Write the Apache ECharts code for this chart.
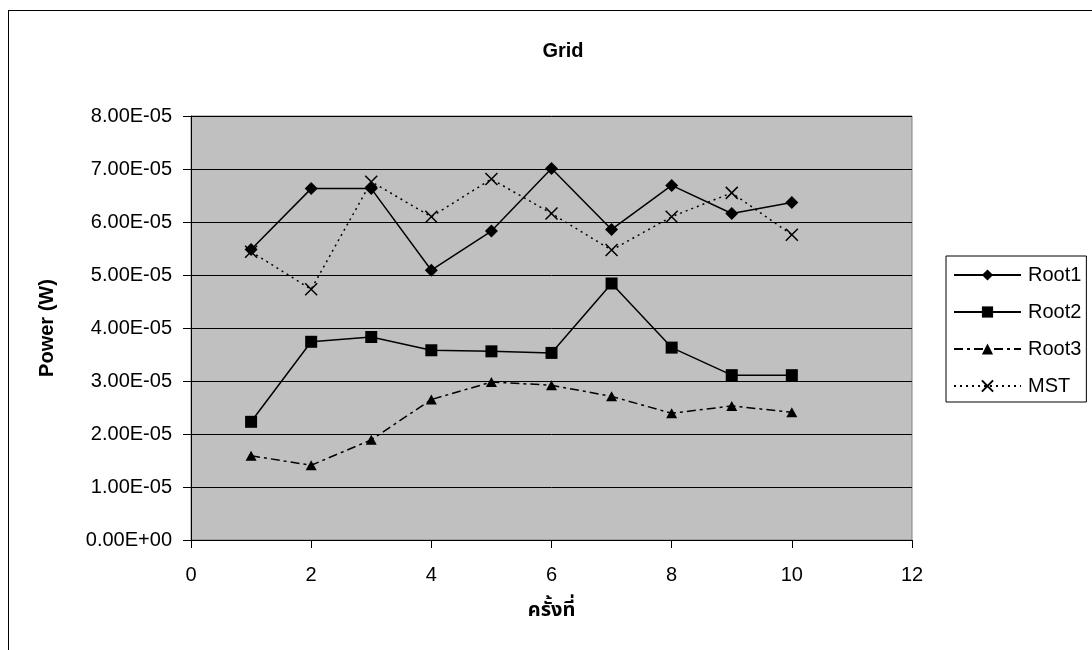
<!DOCTYPE html>
<html>
<head>
<meta charset="utf-8">
<script src="https://cdn.jsdelivr.net/npm/echarts@6/dist/echarts.min.js"></script>
<style>
  html, body { margin: 0; padding: 0; background: #fff; overflow: hidden; }
  #frame { position: absolute; left: 8px; top: 10px; width: 1300px; height: 900px;
           border-left: 1px solid #000; border-top: 1px solid #000; z-index: 2; pointer-events: none; }
  #chart { position: absolute; left: 0; top: 0; width: 1092px; height: 650px; }
</style>
</head>
<body>
<div id="frame"></div>
<div id="chart"></div>
<script>
// Measurement runs (x) and power readings in watts for each routing scheme
const runs  = [1, 2, 3, 4, 5, 6, 7, 8, 9, 10];
const root1 = [5.48e-5, 6.63e-5, 6.63e-5, 5.09e-5, 5.83e-5, 7.01e-5, 5.86e-5, 6.69e-5, 6.16e-5, 6.37e-5];
const root2 = [2.23e-5, 3.74e-5, 3.83e-5, 3.58e-5, 3.56e-5, 3.53e-5, 4.84e-5, 3.63e-5, 3.11e-5, 3.11e-5];
const root3 = [1.59e-5, 1.41e-5, 1.89e-5, 2.65e-5, 2.98e-5, 2.92e-5, 2.71e-5, 2.39e-5, 2.53e-5, 2.41e-5];
const mst   = [5.44e-5, 4.73e-5, 6.76e-5, 6.10e-5, 6.81e-5, 6.16e-5, 5.47e-5, 6.10e-5, 6.55e-5, 5.76e-5];
const seriesNames = ['Root1', 'Root2', 'Root3', 'MST'];

const FONT = "'Liberation Sans', Arial, 'Noto Sans Thai', Tahoma, sans-serif";

// Excel-style scientific notation: 8.00E-05, 0.00E+00
function sci(v) {
  if (v === 0) return '0.00E+00';
  let e = Math.floor(Math.log10(Math.abs(v)) + 1e-9);
  let m = v / Math.pow(10, e);
  if (Math.round(m * 100) / 100 >= 10) { m /= 10; e += 1; }
  return m.toFixed(2) + 'E' + (e < 0 ? '-' : '+') + String(Math.abs(e)).padStart(2, '0');
}

function pairs(vals) { return runs.map((r, i) => [r, vals[i]]); }

const crossPath = 'path://M0,0L10,10M10,0L0,10';

function lineSeries(name, vals, symbol, size, dash, hollow) {
  return {
    name: name,
    type: 'line',
    data: pairs(vals),
    symbol: symbol,
    symbolSize: size,
    showAllSymbol: true,
    animation: false,
    lineStyle: { color: '#000', width: 1.5, type: dash },
    itemStyle: hollow
      ? { color: 'none', borderColor: '#000', borderWidth: 1.5 }
      : { color: '#000', borderColor: '#000', borderWidth: 0 },
    emphasis: { disabled: true }
  };
}

const chart = echarts.init(document.getElementById('chart'), null, { renderer: 'canvas' });
chart.setOption({
  backgroundColor: 'transparent',
  animation: false,
  textStyle: { fontFamily: FONT, color: '#000' },
  title: {
    text: 'Grid',
    left: 558,
    top: 36,
    textAlign: 'center',
    textStyle: { fontFamily: FONT, fontSize: 20, fontWeight: 'bold', color: '#000' }
  },
  grid: {
    left: 191, right: 180, top: 116, bottom: 110,
    show: true, backgroundColor: '#c0c0c0', borderColor: '#808080', borderWidth: 1
  },
  legend: {
    orient: 'vertical',
    left: 946, top: 256,
    padding: [9, 5, 6, 7],
    itemGap: 17,
    itemWidth: 67,
    itemHeight: 14,
    backgroundColor: '#fff',
    borderColor: '#000',
    borderWidth: 1,
    borderRadius: 0,
    data: seriesNames,
    textStyle: { fontFamily: FONT, fontSize: 20, lineHeight: 20, color: '#000', padding: [0, 0, 0, 2] }
  },
  xAxis: {
    type: 'value',
    min: 0, max: 12, interval: 2,
    name: 'ครั้งที่',
    nameLocation: 'middle',
    nameGap: 60,
    nameTextStyle: { fontFamily: FONT, fontSize: 20, fontWeight: 'bold', color: '#000' },
    axisLine: { show: true, onZero: false, lineStyle: { color: '#000', width: 1 } },
    axisTick: { show: true, inside: false, length: 8, lineStyle: { color: '#000' } },
    axisLabel: { fontFamily: FONT, fontSize: 20, color: '#000', margin: 25 },
    splitLine: { show: false }
  },
  yAxis: {
    type: 'value',
    min: 0, max: 8e-5, interval: 1e-5,
    name: 'Power (W)',
    nameLocation: 'middle',
    nameGap: 134,
    nameTextStyle: { fontFamily: FONT, fontSize: 20, fontWeight: 'bold', color: '#000' },
    axisLine: { show: true, lineStyle: { color: '#000', width: 1 } },
    axisTick: { show: true, inside: false, length: 8, lineStyle: { color: '#000' } },
    axisLabel: { fontFamily: FONT, fontSize: 20, color: '#000', margin: 19, formatter: sci },
    splitLine: { show: true, lineStyle: { color: '#000', width: 1 } }
  },
  series: [
    lineSeries('Root1', root1, 'diamond', 13, 'solid', false),
    lineSeries('Root2', root2, 'rect', 12, 'solid', false),
    lineSeries('Root3', root3, 'triangle', [11, 10], [9, 4, 3, 4], false),
    lineSeries('MST', mst, crossPath, 12, [2, 4], true)
  ]
});
</script>
</body>
</html>
